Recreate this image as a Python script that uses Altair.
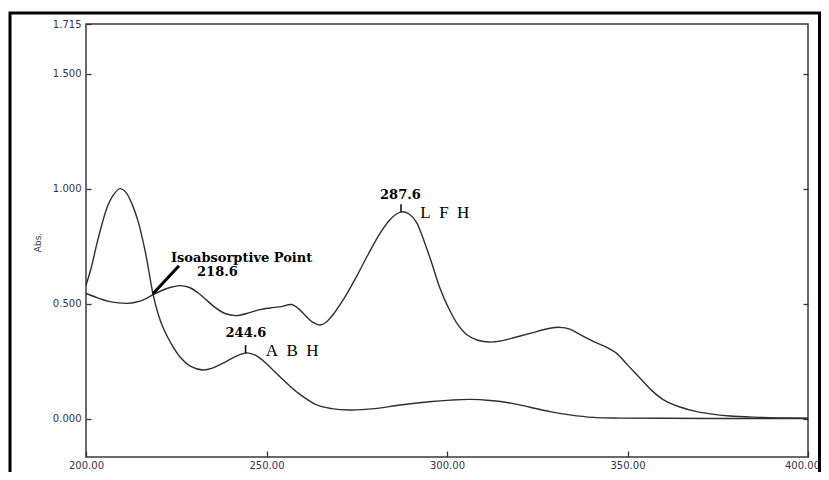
import altair as alt
import pandas as pd

# ---- data ----
abh_nm = [200, 201.5, 203, 204.5, 206, 207.7, 209.4, 211, 212.7, 214.5, 216.5, 218.6, 220, 221.4,
          223.5, 226, 229, 232.4, 235, 238, 241.5, 244.6, 247.5, 251, 254.7, 259, 263.9, 268, 273,
          280, 287, 295, 301, 306.4, 312, 318, 323, 328.5, 334, 340.5, 348, 360, 380, 400]
abh_abs = [0.580, 0.66, 0.76, 0.85, 0.925, 0.975, 1.000, 0.985, 0.935, 0.855, 0.72, 0.540, 0.455, 0.395,
           0.330, 0.270, 0.228, 0.213, 0.221, 0.243, 0.272, 0.287, 0.272, 0.225, 0.169, 0.110, 0.061, 0.045, 0.039,
           0.045, 0.061, 0.075, 0.082, 0.085, 0.080, 0.068, 0.051, 0.032, 0.018, 0.007, 0.004, 0.003, 0.002, 0.002]

lfh_nm = [200, 203, 206, 209, 211.3, 214, 216.5, 218.6, 221, 223.5, 226, 228.5, 231, 233.5, 235.3,
          238.5, 241.7, 245.4, 248.2, 251, 254, 257, 259, 261.1, 263, 264.8, 266.5, 268.5, 270.5,
          272.5, 275, 278, 281.4, 284, 286, 287.6, 289.5, 291.5, 293, 295.5, 298, 300.5, 303, 305.5,
          308.5, 311.9, 315, 319, 323, 328.5, 331.3, 334, 337, 340.5, 344, 347, 350, 353.5, 357,
          360, 364.5, 369.2, 374, 378.4, 385, 392, 400]
lfh_abs = [0.546, 0.527, 0.512, 0.504, 0.502, 0.508, 0.522, 0.540, 0.558, 0.572, 0.579, 0.572, 0.548, 0.515, 0.490,
           0.458, 0.449, 0.462, 0.475, 0.482, 0.488, 0.497, 0.477, 0.444, 0.418, 0.408, 0.420, 0.455, 0.500,
           0.550, 0.620, 0.710, 0.805, 0.862, 0.890, 0.900, 0.890, 0.855, 0.80, 0.69, 0.57, 0.48, 0.41, 0.366,
           0.342, 0.334, 0.339, 0.355, 0.372, 0.394, 0.398, 0.39, 0.365, 0.337, 0.313, 0.285, 0.235, 0.177, 0.12,
           0.083, 0.052, 0.032, 0.02, 0.013, 0.008, 0.005, 0.003]

bold_text = ["Isoabsorptive Point", "218.6", "244.6", "287.6"]
bold_nm = [243.1, 236.4, 244.3, 287.1]
bold_abs = [0.682, 0.621, 0.355, 0.954]

name_text = ["A\u2002B\u2002H", "L\u2002F\u2002H"]
name_nm = [257.1, 299.4]
name_abs = [0.2735, 0.871]

pointer_nm = [225.76, 244.2, 287.26]
pointer_nm2 = [218.48, 244.2, 287.26]
pointer_abs = [0.6656, 0.321, 0.932]
pointer_abs2 = [0.5428, 0.285, 0.900]
pointer_w = [3.0, 1.5, 1.5]

x_ticks = [200, 250, 300, 350, 400]
y_ticks = [0.0, 0.5, 1.0, 1.5, 1.715]

curves = pd.DataFrame({
    "nm": abh_nm + lfh_nm,
    "abs": abh_abs + lfh_abs,
    "series": ["ABH"] * len(abh_nm) + ["LFH"] * len(lfh_nm),
})
bold_df = pd.DataFrame({"t": bold_text, "nm": bold_nm, "abs": bold_abs})
name_df = pd.DataFrame({"t": name_text, "nm": name_nm, "abs": name_abs})
ptr_df = pd.DataFrame({"nm": pointer_nm, "nm2": pointer_nm2, "abs": pointer_abs,
                       "abs2": pointer_abs2, "w": pointer_w})

xscale = alt.Scale(domain=[200, 400], nice=False, zero=False)
yscale = alt.Scale(domain=[-0.165, 1.715], nice=False, zero=False)

label_color = "#333355"
xaxis = alt.Axis(values=x_ticks, format=".2f", offset=-6, tickSize=6, tickColor="#333",
                 tickWidth=1.3, domain=False, grid=False, labelPadding=3, labelFlush=False,
                 labelOffset={"condition": {"test": "datum.value == 400", "value": -6}, "value": 0},
                 labelFont="DejaVu Sans", labelFontSize=10, labelColor=label_color,
                 title="nm.", titleFont="DejaVu Sans", titleFontSize=9, titleFontWeight="normal",
                 titleColor=label_color, titleBaseline="alphabetic", titleY=25)
yaxis_left = alt.Axis(values=y_ticks, format=".3f", offset=-5, tickSize=5, tickColor="#333",
                      tickWidth=1.3, domain=False, grid=False, labelPadding=5, labelFlush=False,
                      labelFont="DejaVu Sans", labelFontSize=10, labelColor=label_color,
                      labelOverlap=False,
                      title="Abs.", titleFont="DejaVu Sans", titleFontSize=9,
                      titleFontWeight="normal", titleColor=label_color, titleAngle=270,
                      titleX=-54, titleY=218, titleAlign="center", titleBaseline="middle")
yaxis_right = alt.Axis(orient="right", values=[0.0, 0.5, 1.0, 1.5], offset=-5, tickSize=5,
                       tickColor="#333", tickWidth=1.3, domain=False, grid=False,
                       labels=False, title=None)

X = alt.X("nm:Q", scale=xscale, axis=xaxis)
Y = alt.Y("abs:Q", scale=yscale, axis=yaxis_left)

frame = alt.Chart(alt.Data(values=[{"a": 1}])).mark_rect(
    fillOpacity=0, stroke="black", strokeWidth=3
).encode(x=alt.value(-76), x2=alt.value(733.5), y=alt.value(-11), y2=alt.value(470))

lines = alt.Chart(curves).mark_line(
    interpolate="catmull-rom", color="#2e2e2e", strokeWidth=1.4
).encode(x=X, y=Y, detail="series:N")

ptrs = alt.Chart(ptr_df).mark_rule(color="black").encode(
    x=X, x2="nm2:Q", y=Y, y2="abs2:Q",
    strokeWidth=alt.StrokeWidth("w:Q", scale=None, legend=None))

bold = alt.Chart(bold_df).mark_text(
    font="DejaVu Serif", fontWeight="bold", fontSize=13, color="black",
    align="center", baseline="alphabetic"
).encode(x=X, y=Y, text="t:N")

names = alt.Chart(name_df).mark_text(
    font="Liberation Serif", fontSize=17, color="black",
    align="center", baseline="alphabetic"
).encode(x=X, y=Y, text="t:N")

left = alt.layer(frame, lines, ptrs, bold, names)

right = alt.Chart(curves).mark_line(opacity=0).encode(
    x=X, y=alt.Y("abs:Q", scale=yscale, axis=yaxis_right), detail="series:N")

chart = alt.layer(left, right).resolve_axis(y="independent").properties(
    width=722, height=433,
    padding={"left": 78, "top": 16, "right": 13, "bottom": 15},
    autosize=alt.AutoSizeParams(type="none"),
    background="white",
).configure_view(stroke="#3a3a3a", strokeWidth=1.5)

chart.save("out.html", embed_options={"renderer": "svg", "actions": False})
